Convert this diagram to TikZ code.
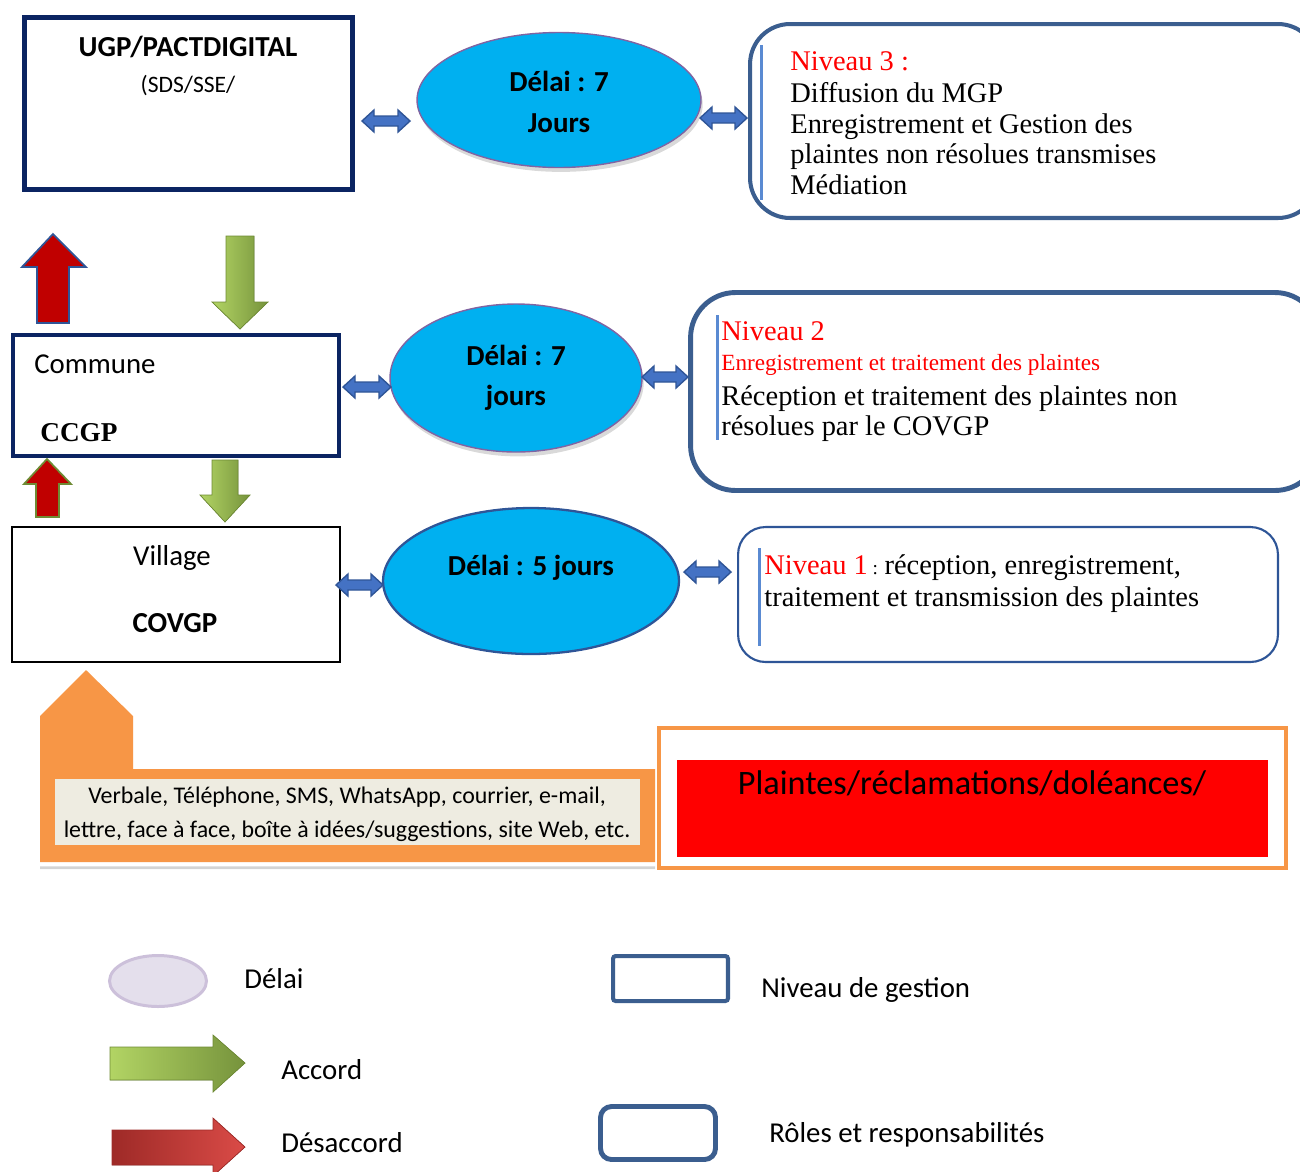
\documentclass[tikz,border=0pt]{standalone}
\usepackage{fontspec}
\setmainfont{Carlito}
\newfontfamily\cambria{Liberation Serif}
\usetikzlibrary{shapes.geometric,shadows}
\definecolor{navyc}{HTML}{0B2462}
\definecolor{boxblue}{HTML}{3B5E8F}
\definecolor{boxone}{HTML}{2E5597}
\definecolor{innerl}{HTML}{5A8AD2}
\definecolor{cyanf}{HTML}{00B0F0}
\definecolor{purpb}{HTML}{8064A2}
\definecolor{dblf}{HTML}{4472C4}
\definecolor{dbld}{HTML}{2F5597}
\definecolor{orangef}{HTML}{F79646}
\definecolor{beigef}{HTML}{EEECE1}
\definecolor{redarrow}{HTML}{C00000}
\definecolor{greenl}{HTML}{B2D464}
\definecolor{greend}{HTML}{76933C}
\definecolor{greenb}{HTML}{6E8B34}
\definecolor{redl}{HTML}{DA4B47}
\definecolor{redd}{HTML}{9E2A27}
\definecolor{legell}{HTML}{E4DFEC}
\definecolor{legelld}{HTML}{CCC0DA}
\newcommand\fsz[1]{\fontsize{#1pt}{#1pt}\selectfont}
\newcommand\dblarr[3]{%
  \filldraw[dblarrow] (#1,#3) -- ({#1+12},{#3-11}) -- ({#1+12},{#3-5}) -- ({#2-12},{#3-5}) -- ({#2-12},{#3-11}) -- (#2,#3) -- ({#2-12},{#3+11}) -- ({#2-12},{#3+5}) -- ({#1+12},{#3+5}) -- ({#1+12},{#3+11}) -- cycle;}
\begin{document}
\begin{tikzpicture}[x=0.02cm, y=-0.02cm,
  mgmt/.style={draw=navyc, fill=white, inner sep=0pt},
  rolebox/.style={draw=boxblue, fill=white, inner sep=0pt},
  delai/.style={ellipse, fill=cyanf, inner sep=0pt},
  dshadow/.style={drop shadow={opacity=0.3, shadow xshift=1pt, shadow yshift=-2.5pt}},
  dblarrow/.style={fill=dblf, draw=dbld, line width=0.8pt, line join=miter},
  innerline/.style={draw=innerl, line width=1.7pt},
  lbl/.style={inner sep=0pt, anchor=base},
  lbw/.style={inner sep=0pt, anchor=base west},
  cal/.style={font=\fsz{16.4}},
  calb/.style={font=\bfseries\fsz{16.5}},
  ser/.style={font=\cambria\fsz{16.2}},
]
\useasboundingbox (0,0) rectangle (1300,1171);
\clip (0,0) rectangle (1300,1171);

% ---------- management boxes ----------
\node[mgmt, line width=2.8pt, minimum width=6.56cm, minimum height=3.44cm] (ugp) at (188.5,103.5) {};
\node[calb, lbl] (ugpt) at (188,56) {UGP/PACTDIGITAL};
\node[font=\fsz{13.4}, lbl] (ugps) at (188,92) {(SDS/SSE/};

\node[mgmt, line width=2pt, minimum width=6.53cm, minimum height=2.43cm] (commune) at (176,395.5) {};
\node[cal, lbw] (communet) at (34,373) {Commune};
\node[font=\cambria\bfseries\fsz{15.5}, lbw] (ccgp) at (40,441) {CCGP};

\node[draw=black, fill=white, inner sep=0pt, line width=1.2pt, minimum width=6.56cm, minimum height=2.7cm] (village) at (176,594.5) {};
\node[cal, lbl] (villaget) at (172,565) {Village};
\node[calb, lbl] (covgp) at (175,632) {COVGP};

% ---------- delay ellipses ----------
\node[delai, dshadow, draw=purpb, line width=0.8pt, minimum width=5.68cm, minimum height=2.7cm] (e1) at (559,100) {};
\node[calb, lbl] (e1a) at (559,91) {Délai : 7};
\node[calb, lbl] (e1b) at (559,132) {Jours};

\node[delai, dshadow, draw=purpb, line width=0.8pt, minimum width=5.04cm, minimum height=2.96cm] (e2) at (516,378) {};
\node[calb, lbl] (e2a) at (516,365) {Délai : 7};
\node[calb, lbl] (e2b) at (516,405) {jours};

\node[delai, draw=dbld, line width=1.3pt, minimum width=5.92cm, minimum height=2.92cm] (e3) at (531,581) {};
\node[calb, lbl] (e3a) at (531,575) {Délai : 5 jours};

% ---------- role boxes ----------
\node[rolebox, line width=2.3pt, rounded corners=0.8cm, minimum width=11.36cm, minimum height=3.88cm] (n3) at (1034,121) {};
\draw[innerline] (761,45) -- (761,200);
\node[ser, lbw, text=red] (n3a) at (790,70) {Niveau 3 :};
\node[ser, lbw] (n3b) at (790,102) {Diffusion du MGP};
\node[ser, lbw] (n3c) at (790,133) {Enregistrement et Gestion des};
\node[ser, lbw] (n3d) at (790,163) {plaintes non résolues transmises};
\node[ser, lbw] (n3e) at (790,194) {Médiation};

\node[rolebox, line width=2.8pt, rounded corners=0.9cm, minimum width=12.59cm, minimum height=3.96cm] (n2) at (1005.25,391.5) {};
\draw[innerline] (717,315) -- (717,440);
\node[ser, lbw, text=red] (n2a) at (721,340) {Niveau 2};
\node[font=\cambria\fsz{13.2}, lbw, text=red] (n2b) at (721,370) {Enregistrement et traitement des plaintes};
\node[ser, lbw] (n2c) at (721,405) {Réception et traitement des plaintes non};
\node[ser, lbw] (n2d) at (721,435) {résolues par le COVGP};

\node[draw=boxone, fill=white, inner sep=0pt, line width=1.2pt, rounded corners=0.55cm, minimum width=10.8cm, minimum height=2.7cm] (n1) at (1008,594.5) {};
\draw[innerline] (759,548) -- (759,646);
\node[ser, lbw] (n1a) at (764,574) {\textcolor{red}{Niveau 1}{\fsz{11} : }réception, enregistrement,};
\node[ser, lbw] (n1b) at (764,606) {traitement et transmission des plaintes};

% ---------- double arrows ----------
\dblarr{362}{410}{121}
\dblarr{700}{747}{118}
\dblarr{343}{391}{387}
\dblarr{642}{688}{377}
\dblarr{336}{383}{585}
\dblarr{684}{731}{572}

% ---------- vertical block arrows ----------
\filldraw[fill=redarrow, draw=dbld, line width=1pt] (37,323) -- (37,267) -- (22,267) -- (53,234) -- (86,267) -- (69,267) -- (69,323) -- cycle;
\filldraw[left color=greenl, right color=greend, draw=greenb, line width=0.4pt] (226,236) -- (254,236) -- (254,302) -- (268,302) -- (240,329) -- (212,302) -- (226,302) -- cycle;
\filldraw[fill=redarrow, draw=greenb, line width=1pt] (36,517) -- (36,484) -- (24,484) -- (47,459) -- (71,484) -- (59,484) -- (59,517) -- cycle;
\filldraw[left color=greenl, right color=greend, draw=greenb, line width=0.4pt] (212,460) -- (238,460) -- (238,495) -- (250,495) -- (225,522) -- (200,495) -- (212,495) -- cycle;

% ---------- channels ----------
\filldraw[fill=white, draw=white, line width=5pt, line join=miter, drop shadow={opacity=0.35, shadow xshift=0pt, shadow yshift=-4pt}] (40,862) -- (40,716) -- (86,670) -- (133,716) -- (133,769) -- (655,769) -- (655,862) -- cycle;
\fill[orangef] (40,862) -- (40,716) -- (86,670) -- (133,716) -- (133,769) -- (655,769) -- (655,862) -- cycle;
\node[fill=beigef, inner sep=0pt, minimum width=11.7cm, minimum height=1.32cm] (chan) at (347.5,812) {};
\node[font=\fsz{13.6}, lbl] (chana) at (347,803) {Verbale, Téléphone, SMS, WhatsApp, courrier, e-mail,};
\node[font=\fsz{13.6}, lbl] (chanb) at (347,837) {lettre, face à face, boîte à idées/suggestions, site Web, etc.};

\node[draw=orangef, fill=white, inner sep=0pt, line width=2.3pt, minimum width=12.54cm, minimum height=2.8cm] (plout) at (972.5,798) {};
\node[fill=red, inner sep=0pt, minimum width=11.82cm, minimum height=1.94cm] (plin) at (972.5,808.5) {};
\node[font=\fsz{19.5}, lbl] (plt) at (972,794) {Plaintes/réclamations/doléances/};

% ---------- legend ----------
\node[ellipse, fill=legell, draw=legelld, line width=1.7pt, inner sep=0pt, minimum width=1.94cm, minimum height=1.02cm] (lege) at (158,981) {};
\node[cal, lbw] (legea) at (244,988) {Délai};
\filldraw[left color=greenl, right color=greend, draw=greenb, line width=0.4pt] (110,1047) -- (213,1047) -- (213,1035) -- (245,1063) -- (213,1092) -- (213,1080) -- (110,1080) -- cycle;
\node[cal, lbw] (lega) at (281,1079) {Accord};
\filldraw[left color=redd, right color=redl, draw=redd, line width=0.4pt] (112,1130) -- (213,1130) -- (213,1118) -- (245,1147) -- (213,1176) -- (213,1165) -- (112,1165) -- cycle;
\node[cal, lbw] (legd) at (281,1152) {Désaccord};
\node[draw=boxblue, line width=2.3pt, rounded corners=1.5pt, inner sep=0pt, minimum width=2.3cm, minimum height=0.9cm] (legn) at (670.5,978.5) {};
\node[cal, lbw] (legnt) at (761,997) {Niveau de gestion};
\node[draw=boxblue, line width=2.8pt, rounded corners=0.22cm, inner sep=0pt, minimum width=2.3cm, minimum height=1.06cm] (legr) at (658,1133) {};
\node[cal, lbw] (legrt) at (769,1142) {Rôles et responsabilités};
\end{tikzpicture}
\end{document}
